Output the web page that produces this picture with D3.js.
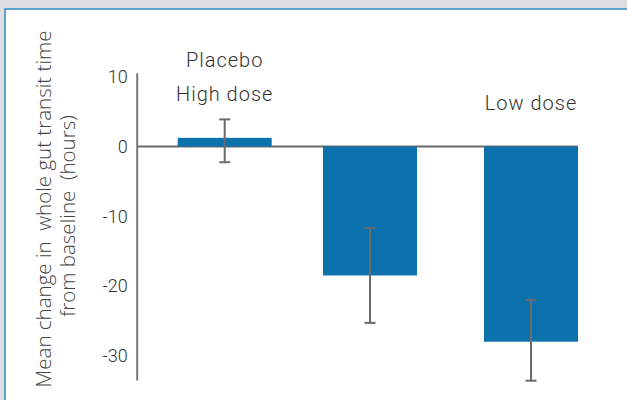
<!DOCTYPE html>
<html><head><meta charset="utf-8">
<script src="https://cdn.jsdelivr.net/npm/d3@7"></script>
<style>
html,body{margin:0;padding:0;background:#dcdfe1;}
svg{display:block;}
</style></head>
<body>
<script>
const categories = ["Placebo", "High dose", "Low dose"];
const values = [1.25, -18.5, -28.0];
const errLow = [-2.25, -25.3, -33.6];
const errHigh = [3.9, -11.7, -22.0];
const yTicks = [10, 0, -10, -20, -30];
const yTitle = ["Mean change in  whole gut transit time", "from baseline  (hours)"];
// annotations as they appear in the chart
const annoText = ["Placebo", "High dose", "Low dose"];
const annoBar = [0, 0, 2];

const W = 627, H = 400;
const svg = d3.select("body").append("svg").attr("width", W).attr("height", H);
svg.append("rect").attr("x", 5).attr("y", 9).attr("width", W).attr("height", H)
  .attr("fill", "#fff").attr("stroke", "#3d8fc6").attr("stroke-width", 1.6);

const y = d3.scaleLinear().domain([-33.5, 10.6]).range([380, 72.7]);
const x = d3.scaleOrdinal().domain(categories).range([224.7, 370, 531]);
const barW = 94;

// zero line
svg.append("line").attr("x1", 137).attr("x2", x(categories[2]) + barW/2)
  .attr("y1", y(0)).attr("y2", y(0)).attr("stroke", "#6a6a6a").attr("stroke-width", 2);

// bars
svg.selectAll("rect.bar").data(values).enter().append("rect").attr("class", "bar")
  .attr("x", (d, i) => x(categories[i]) - barW/2)
  .attr("width", barW)
  .attr("y", d => y(Math.max(0, d)))
  .attr("height", d => Math.abs(y(d) - y(0)))
  .attr("fill", "#0b72ae");

// error bars
const eg = svg.append("g").attr("stroke", "#6b6b6b").attr("stroke-width", 2);
categories.forEach((c, i) => {
  const cx = x(c);
  eg.append("line").attr("x1", cx).attr("x2", cx).attr("y1", y(errHigh[i])).attr("y2", y(errLow[i]));
  eg.append("line").attr("x1", cx - 5.5).attr("x2", cx + 5.5).attr("y1", y(errHigh[i])).attr("y2", y(errHigh[i]));
  eg.append("line").attr("x1", cx - 5.5).attr("x2", cx + 5.5).attr("y1", y(errLow[i])).attr("y2", y(errLow[i]));
});

// axis
const ax = svg.append("g").attr("transform", "translate(136.7,0)")
  .call(d3.axisLeft(y).tickValues(yTicks).tickSize(0).tickPadding(9).tickFormat(d => String(d)));
ax.select(".domain").attr("stroke", "#777").attr("stroke-width", 2);
ax.selectAll("text").attr("font-family", "Roboto").attr("font-weight", 300).attr("font-size", 18).attr("fill", "#333");

// y title
const yt = svg.append("text").attr("transform", "rotate(-90)")
  .attr("font-family", "Open Sans").attr("font-weight", 300).attr("font-size", 20.5).attr("fill", "#444").attr("text-anchor", "middle")
  .style("white-space", "pre");
yt.append("tspan").attr("x", -209).attr("y", 51).text(yTitle[0]);
yt.append("tspan").attr("x", -216).attr("y", 75).text(yTitle[1]);

// annotations
const annoY = [67, 100.5, 110];
annoText.forEach((t, i) => {
  svg.append("text").attr("x", x(categories[annoBar[i]])).attr("y", annoY[i])
    .attr("text-anchor", "middle").attr("font-family", "Roboto").attr("font-weight", 300).attr("font-size", 20)
    .attr("letter-spacing", 1).attr("fill", "#333").text(t);
});
</script>
</body></html>
